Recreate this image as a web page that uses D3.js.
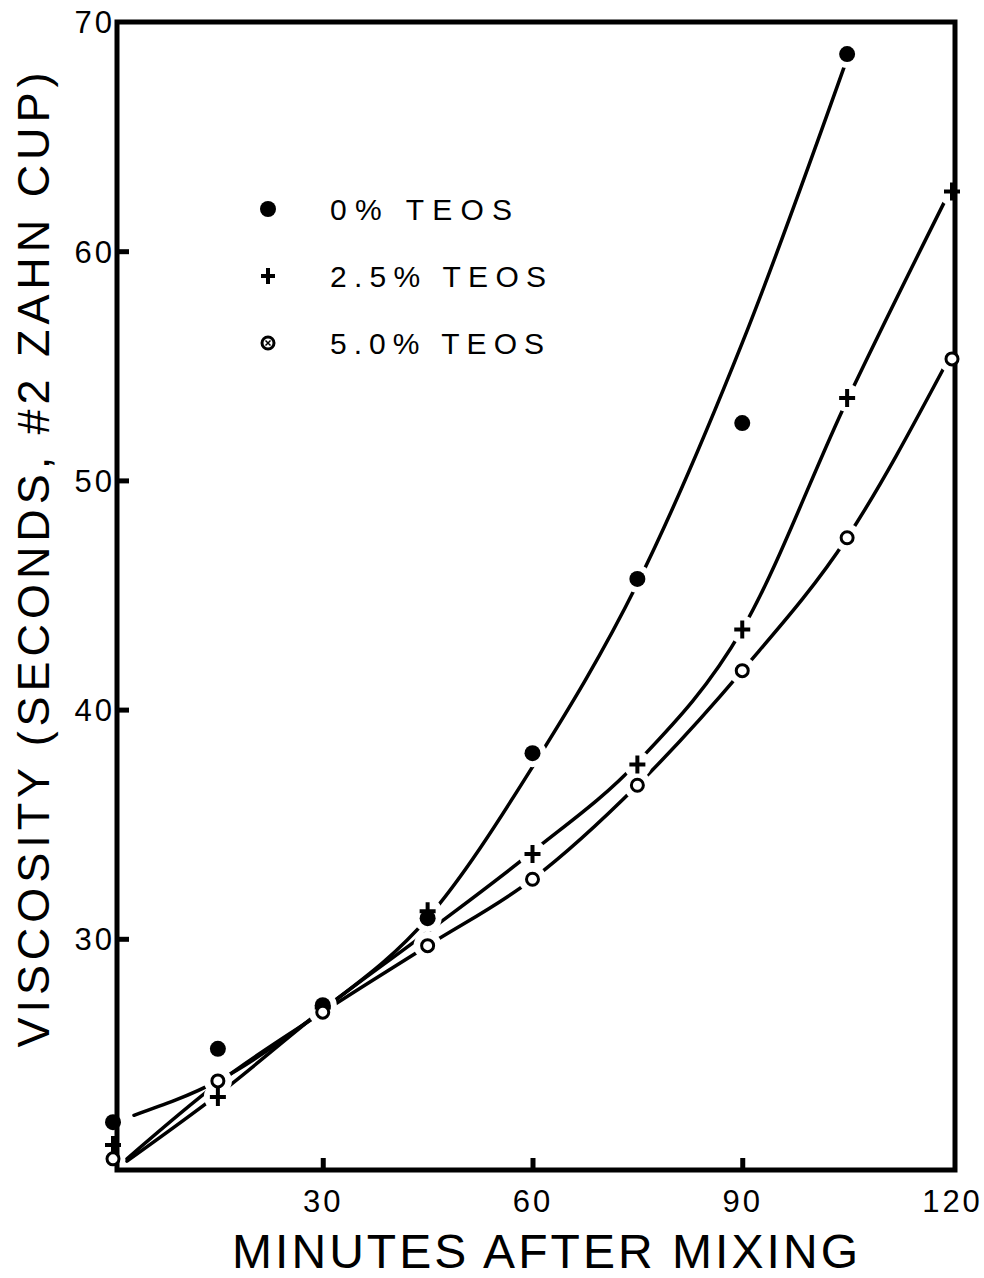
<!DOCTYPE html>
<html>
<head>
<meta charset="utf-8">
<script src="https://cdn.jsdelivr.net/npm/d3@7"></script>
<style>
  body { margin: 0; background: #fff; }
  text { font-family: "Liberation Sans", "DejaVu Sans", sans-serif; fill: #000; }
</style>
</head>
<body>
<div id="chart"></div>
<script>
// Canvas size
var svgWidth = 984;
var svgHeight = 1278;

// Plot frame
var margin = { top: 22, right: 29, bottom: 108, left: 117 };

// Measured points (minutes after mixing / viscosity in seconds)
var minutes = [0, 15, 30, 45, 60, 75, 90, 105, 120];
var teos0 = [22.0, 25.2, 27.1, 30.9, 38.1, 45.7, 52.5, 68.6];          // 0 % TEOS, up to 105 min
var teos25 = [21.0, 23.1, 27.0, 31.2, 33.7, 37.6, 43.5, 53.6, 62.6];    // 2.5 % TEOS
var teos50 = [20.4, 23.8, 26.8, 29.7, 32.6, 36.7, 41.7, 47.5, 55.3];    // 5.0 % TEOS

// Hand-drawn smooth curves
var fitMinutes0 = [3, 15, 30, 45, 60, 75, 90, 105];
var fit0 = [22.3, 23.8, 26.9, 30.9, 37.5, 45.5, 56.0, 68.4];
var fitMinutes = [2, 15, 30, 45, 60, 75, 90, 105, 119];
var fit25 = [20.3, 23.2, 26.9, 30.3, 33.8, 37.7, 43.5, 53.5, 62.2];
var fit50 = [20.4, 23.7, 26.8, 29.7, 32.6, 36.7, 41.7, 47.5, 55.0];

// Axis ticks
var xTicks = [30, 60, 90, 120];
var yTicks = [30, 40, 50, 60, 70];

// Legend
var legendLabels = ["0% TEOS", "2.5% TEOS", "5.0% TEOS"];
var legendWidths = [182, 216, 214];

var width = svgWidth - margin.left - margin.right;
var height = svgHeight - margin.top - margin.bottom;

var svg = d3.select("#chart")
  .append("svg")
  .attr("width", svgWidth)
  .attr("height", svgHeight);

var chartGroup = svg.append("g")
  .attr("transform", `translate(${margin.left}, ${margin.top})`);

// scales
var xScale = d3.scaleLinear().domain([0, 120]).range([-4, width - 3]);
var yScale = d3.scaleLinear().domain([20, 70]).range([height - 2, 0]);

// ticks drawn inward with axis generators
var bottomAxis = d3.axisBottom(xScale)
  .tickValues(xTicks)
  .tickSize(-12)
  .tickPadding(20)
  .tickFormat(d3.format("d"));

var leftAxis = d3.axisLeft(yScale)
  .tickValues(yTicks)
  .tickSize(-12)
  .tickPadding(2)
  .tickFormat(d3.format("d"));

var xAxis = chartGroup.append("g")
  .attr("transform", `translate(0, ${height})`)
  .call(bottomAxis);

xAxis.select(".domain").remove();
xAxis.selectAll("line")
  .attr("stroke", "#000")
  .attr("stroke-width", 5)
  .filter(d => d === 120).remove();
xAxis.selectAll("text")
  .attr("font-size", 31)
  .attr("letter-spacing", 3)
  .attr("dy", "0.72em");

var yAxis = chartGroup.append("g")
  .call(leftAxis);

yAxis.select(".domain").remove();
yAxis.selectAll("line")
  .attr("stroke", "#000")
  .attr("stroke-width", 5)
  .filter(d => d === 70).remove();
yAxis.selectAll("text")
  .attr("font-size", 31)
  .attr("letter-spacing", 3)
  .attr("dy", "0.35em");

// curves
var line = d3.line()
  .x(d => xScale(d[0]))
  .y(d => yScale(d[1]))
  .curve(d3.curveMonotoneX);

var curves = [
  d3.zip(fitMinutes0, fit0),
  d3.zip(fitMinutes, fit25),
  d3.zip(fitMinutes, fit50)
];

chartGroup.selectAll(".fit")
  .data(curves)
  .enter()
  .append("path")
  .attr("class", "fit")
  .attr("d", line)
  .attr("fill", "none")
  .attr("stroke", "#000")
  .attr("stroke-width", 3.5)
  .attr("stroke-linecap", "round");

// points, with the white gap the draughtsman left around each one
var pts0 = d3.zip(minutes.slice(0, teos0.length), teos0);
var pts25 = d3.zip(minutes, teos25);
var pts50 = d3.zip(minutes, teos50);
var allPts = pts0.concat(pts25, pts50).filter(d => d[0] > 0);

chartGroup.selectAll(".gap")
  .data(allPts)
  .enter()
  .append("circle")
  .attr("class", "gap")
  .attr("cx", d => xScale(d[0]))
  .attr("cy", d => yScale(d[1]))
  .attr("r", 14)
  .attr("fill", "#fff");

// frame (after the gaps so they don't eat into it)
chartGroup.append("rect")
  .attr("x", 0)
  .attr("y", 0)
  .attr("width", width)
  .attr("height", height)
  .attr("fill", "none")
  .attr("stroke", "#000")
  .attr("stroke-width", 5);

chartGroup.selectAll(".dot0")
  .data(pts0)
  .enter()
  .append("circle")
  .attr("class", "dot0")
  .attr("cx", d => xScale(d[0]))
  .attr("cy", d => yScale(d[1]))
  .attr("r", 8)
  .attr("fill", "#000");

chartGroup.selectAll(".plus25")
  .data(pts25)
  .enter()
  .append("path")
  .attr("class", "plus25")
  .attr("transform", d => `translate(${xScale(d[0])}, ${yScale(d[1])})`)
  .attr("d", "M-8,0H8M0,-9V9")
  .attr("stroke", "#000")
  .attr("stroke-width", 4);

chartGroup.selectAll(".ring50")
  .data(pts50)
  .enter()
  .append("circle")
  .attr("class", "ring50")
  .attr("cx", d => xScale(d[0]))
  .attr("cy", d => yScale(d[1]))
  .attr("r", 6)
  .attr("fill", "#fff")
  .attr("stroke", "#000")
  .attr("stroke-width", 3);

// legend
var legend = svg.append("g")
  .attr("transform", "translate(268, 209)");

legend.selectAll("text")
  .data(legendLabels)
  .enter()
  .append("text")
  .attr("x", 62)
  .attr("y", (d, i) => i * 67)
  .attr("dy", "0.36em")
  .attr("font-size", 30)
  .attr("textLength", (d, i) => legendWidths[i])
  .attr("lengthAdjust", "spacing")
  .text(d => d);

legend.append("circle")
  .attr("r", 8)
  .attr("fill", "#000");

legend.append("path")
  .attr("transform", "translate(0, 67)")
  .attr("d", "M-7,0H7M0,-8V8")
  .attr("stroke", "#000")
  .attr("stroke-width", 4);

legend.append("circle")
  .attr("cy", 134)
  .attr("r", 6)
  .attr("fill", "#fff")
  .attr("stroke", "#000")
  .attr("stroke-width", 3);

legend.append("path")
  .attr("transform", "translate(0, 134)")
  .attr("d", "M-2.5,-2.5L2.5,2.5M2.5,-2.5L-2.5,2.5")
  .attr("stroke", "#000")
  .attr("stroke-width", 1.5);

// axis titles
svg.append("text")
  .attr("x", 545)
  .attr("y", 1268)
  .attr("text-anchor", "middle")
  .attr("font-size", 48)
  .attr("textLength", 626)
  .attr("lengthAdjust", "spacing")
  .text("MINUTES AFTER MIXING");

svg.append("text")
  .attr("transform", "translate(49, 560) rotate(-90)")
  .attr("text-anchor", "middle")
  .attr("font-size", 45)
  .attr("textLength", 975)
  .attr("lengthAdjust", "spacing")
  .text("VISCOSITY (SECONDS, #2 ZAHN CUP)");
</script>
</body>
</html>
